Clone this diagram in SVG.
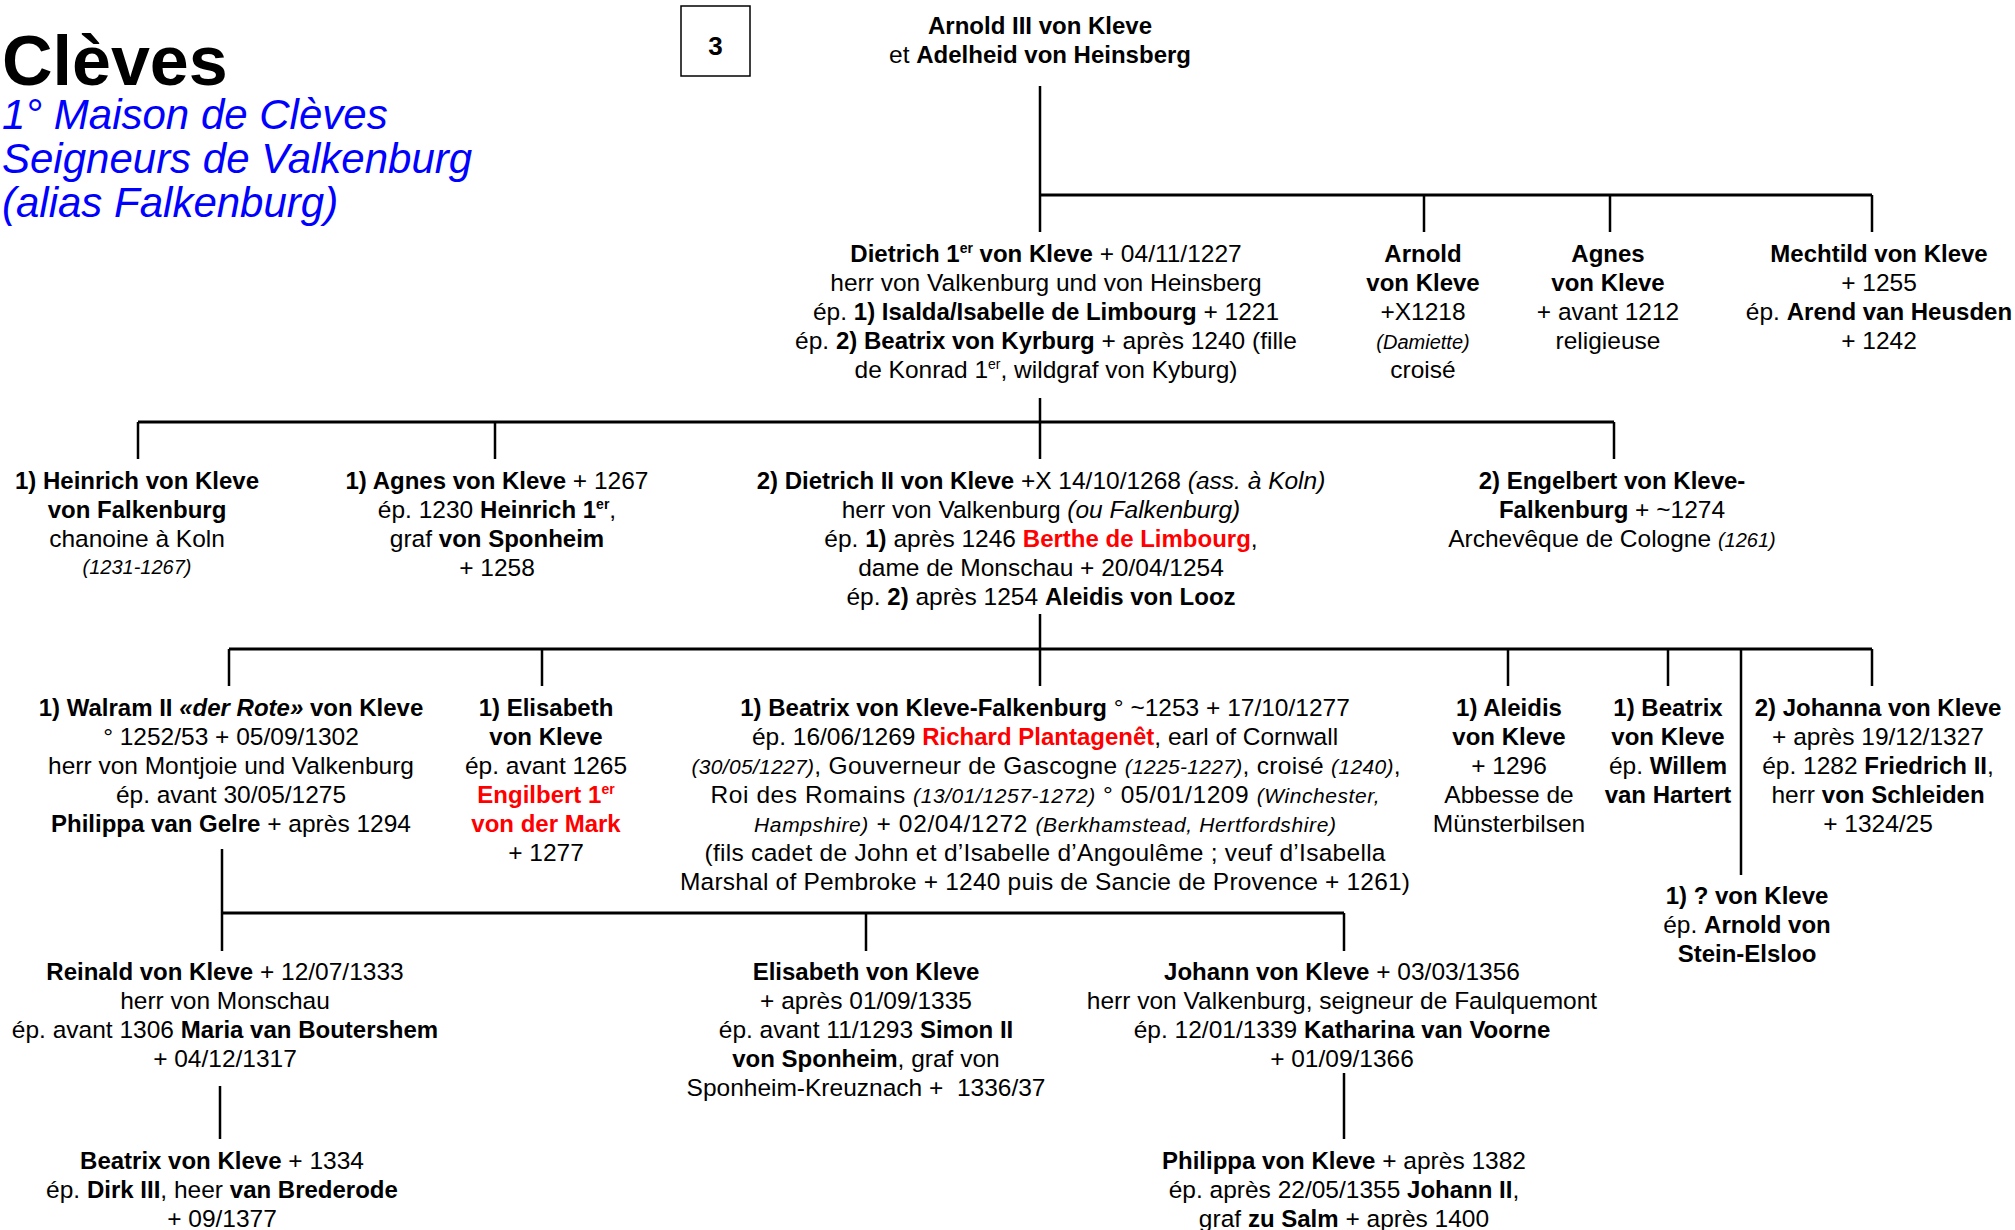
<svg xmlns="http://www.w3.org/2000/svg" width="2015" height="1230" viewBox="0 0 2015 1230">
<style>
text{font-family:"Liberation Sans",Arial,sans-serif;font-size:24.5px;fill:#000}
.t{text-anchor:middle}
.b{font-weight:bold;font-size:24px}
.i{font-style:italic}
.s{font-size:20px}
.m{font-size:21px}
.r{fill:#f00}
.title{font-size:70px;font-weight:bold}
.sub{font-size:42px;font-style:italic;fill:#0000ff}
.ln{stroke:#000;stroke-width:2.5;fill:none}
.bar{stroke:#000;stroke-width:3;fill:none}
</style>
<rect width="2015" height="1230" fill="#fff"/>
<g id="header">
<text class="title" x="2" y="85">Clèves</text>
<text class="sub" x="2" y="129">1° Maison de Clèves</text>
<text class="sub" x="2" y="173">Seigneurs de Valkenburg</text>
<text class="sub" x="2" y="217">(alias Falkenburg)</text>
<rect x="681" y="6" width="69" height="70" fill="none" stroke="#000" stroke-width="1.5"/>
<text class="t b" x="715.5" y="55" style="font-size:26px">3</text>
</g>
<g id="connectors">
<path class="ln" d="M1040 86V195M1040 195V232M1424 195V232M1610 195V232M1872 195V232"/>
<path class="bar" d="M1040 195H1872"/>
<path class="ln" d="M1040 398V459M138 422V459M495 422V459M1614 422V459"/>
<path class="bar" d="M138 422H1614"/>
<path class="ln" d="M1040 614V686M229 649V686M542 649V686M1508 649V686M1668 649V686M1872 649V686M1741 649V875"/>
<path class="bar" d="M229 649H1872"/>
<path class="ln" d="M222 849V951M866 913V951M1344 913V951"/>
<path class="bar" d="M222 913H1344"/>
<path class="ln" d="M220 1086V1139M1344 1073V1139"/>
</g>
<g id="n-arnold3">
<text class="t b" x="1040" y="34">Arnold III von Kleve</text>
<text class="t" x="1040" y="63">et <tspan class="b">Adelheid von Heinsberg</tspan></text>
</g>
<g id="n-dietrich1">
<text class="t" x="1046" y="262"><tspan class="b">Dietrich 1<tspan font-size="14" dy="-9">er</tspan><tspan dy="9"> von Kleve</tspan></tspan> + 04/11/1227</text>
<text class="t" x="1046" y="291">herr von Valkenburg und von Heinsberg</text>
<text class="t" x="1046" y="320">ép. <tspan class="b">1) Isalda/Isabelle de Limbourg</tspan> + 1221</text>
<text class="t" x="1046" y="349">ép. <tspan class="b">2) Beatrix von Kyrburg</tspan> + après 1240 (fille</text>
<text class="t" x="1046" y="378">de Konrad 1<tspan font-size="14" dy="-9">er</tspan><tspan dy="9">, wildgraf von Kyburg)</tspan></text>
</g>
<g id="n-arnold">
<text class="t b" x="1423" y="262">Arnold</text>
<text class="t b" x="1423" y="291">von Kleve</text>
<text class="t" x="1423" y="320">+X1218</text>
<text class="t i s" x="1423" y="349">(Damiette)</text>
<text class="t" x="1423" y="378">croisé</text>
</g>
<g id="n-agnes1">
<text class="t b" x="1608" y="262">Agnes</text>
<text class="t b" x="1608" y="291">von Kleve</text>
<text class="t" x="1608" y="320">+ avant 1212</text>
<text class="t" x="1608" y="349">religieuse</text>
</g>
<g id="n-mechtild">
<text class="t b" x="1879" y="262">Mechtild von Kleve</text>
<text class="t" x="1879" y="291">+ 1255</text>
<text class="t" x="1879" y="320">ép. <tspan class="b">Arend van Heusden</tspan></text>
<text class="t" x="1879" y="349">+ 1242</text>
</g>
<g id="n-heinrich">
<text class="t b" x="137" y="489">1) Heinrich von Kleve</text>
<text class="t b" x="137" y="518">von Falkenburg</text>
<text class="t" x="137" y="547">chanoine à Koln</text>
<text class="t i s" x="137" y="574">(1231-1267)</text>
</g>
<g id="n-agnes2">
<text class="t" x="497" y="489"><tspan class="b">1) Agnes von Kleve</tspan> + 1267</text>
<text class="t" x="497" y="518">ép. 1230 <tspan class="b">Heinrich 1<tspan font-size="14" dy="-9">er</tspan></tspan><tspan dy="9">,</tspan></text>
<text class="t" x="497" y="547">graf <tspan class="b">von Sponheim</tspan></text>
<text class="t" x="497" y="576">+ 1258</text>
</g>
<g id="n-dietrich2">
<text class="t" x="1041" y="489"><tspan class="b">2) Dietrich II von Kleve</tspan> +X 14/10/1268 <tspan class="i">(ass. à Koln)</tspan></text>
<text class="t" x="1041" y="518">herr von Valkenburg <tspan class="i">(ou Falkenburg)</tspan></text>
<text class="t" x="1041" y="547">ép. <tspan class="b">1)</tspan> après 1246 <tspan class="b r">Berthe de Limbourg</tspan>,</text>
<text class="t" x="1041" y="576">dame de Monschau + 20/04/1254</text>
<text class="t" x="1041" y="605">ép. <tspan class="b">2)</tspan> après 1254 <tspan class="b">Aleidis von Looz</tspan></text>
</g>
<g id="n-engelbert">
<text class="t b" x="1612" y="489">2) Engelbert von Kleve-</text>
<text class="t" x="1612" y="518"><tspan class="b">Falkenburg</tspan> + ~1274</text>
<text class="t" x="1612" y="547">Archevêque de Cologne <tspan class="i s">(1261)</tspan></text>
</g>
<g id="n-walram">
<text class="t b" x="231" y="716">1) Walram II <tspan class="i">«der Rote»</tspan> von Kleve</text>
<text class="t" x="231" y="745">° 1252/53 + 05/09/1302</text>
<text class="t" x="231" y="774">herr von Montjoie und Valkenburg</text>
<text class="t" x="231" y="803">ép. avant 30/05/1275</text>
<text class="t" x="231" y="832"><tspan class="b">Philippa van Gelre</tspan> + après 1294</text>
</g>
<g id="n-elisabeth1">
<text class="t b" x="546" y="716">1) Elisabeth</text>
<text class="t b" x="546" y="745">von Kleve</text>
<text class="t" x="546" y="774">ép. avant 1265</text>
<text class="t b r" x="546" y="803">Engilbert 1<tspan font-size="14" dy="-9">er</tspan></text>
<text class="t b r" x="546" y="832">von der Mark</text>
<text class="t" x="546" y="861">+ 1277</text>
</g>
<g id="n-beatrix1">
<text class="t" x="1045" y="716"><tspan class="b">1) Beatrix von Kleve-Falkenburg</tspan> ° ~1253 + 17/10/1277</text>
<text class="t" x="1045" y="745">ép. 16/06/1269 <tspan class="b r">Richard Plantagenêt</tspan>, earl of Cornwall</text>
<text class="t" x="1046" y="774" textLength="709" lengthAdjust="spacing"><tspan class="i m">(30/05/1227)</tspan>, Gouverneur de Gascogne <tspan class="i m">(1225-1227)</tspan>, croisé <tspan class="i m">(1240)</tspan>,</text>
<text class="t" x="1045" y="803" textLength="669" lengthAdjust="spacing">Roi des Romains <tspan class="i m">(13/01/1257-1272)</tspan> ° 05/01/1209 <tspan class="i m">(Winchester,</tspan></text>
<text class="t" x="1045" y="832" textLength="582" lengthAdjust="spacing"><tspan class="i m">Hampshire)</tspan> + 02/04/1272 <tspan class="i m">(Berkhamstead, Hertfordshire)</tspan></text>
<text class="t" x="1045" y="861" textLength="681" lengthAdjust="spacing">(fils cadet de John et d’Isabelle d’Angoulême ; veuf d’Isabella</text>
<text class="t" x="1045" y="890" textLength="730" lengthAdjust="spacing">Marshal of Pembroke + 1240 puis de Sancie de Provence + 1261)</text>
</g>
<g id="n-aleidis">
<text class="t b" x="1509" y="716">1) Aleidis</text>
<text class="t b" x="1509" y="745">von Kleve</text>
<text class="t" x="1509" y="774">+ 1296</text>
<text class="t" x="1509" y="803">Abbesse de</text>
<text class="t" x="1509" y="832">Münsterbilsen</text>
</g>
<g id="n-beatrix2">
<text class="t b" x="1668" y="716">1) Beatrix</text>
<text class="t b" x="1668" y="745">von Kleve</text>
<text class="t" x="1668" y="774">ép. <tspan class="b">Willem</tspan></text>
<text class="t b" x="1668" y="803">van Hartert</text>
</g>
<g id="n-johanna">
<text class="t b" x="1878" y="716">2) Johanna von Kleve</text>
<text class="t" x="1878" y="745">+ après 19/12/1327</text>
<text class="t" x="1878" y="774">ép. 1282 <tspan class="b">Friedrich II</tspan>,</text>
<text class="t" x="1878" y="803">herr <tspan class="b">von Schleiden</tspan></text>
<text class="t" x="1878" y="832">+ 1324/25</text>
</g>
<g id="n-unknown">
<text class="t b" x="1747" y="904">1) ? von Kleve</text>
<text class="t" x="1747" y="933">ép. <tspan class="b">Arnold von</tspan></text>
<text class="t b" x="1747" y="962">Stein-Elsloo</text>
</g>
<g id="n-reinald">
<text class="t" x="225" y="980"><tspan class="b">Reinald von Kleve</tspan> + 12/07/1333</text>
<text class="t" x="225" y="1009">herr von Monschau</text>
<text class="t" x="225" y="1038">ép. avant 1306 <tspan class="b">Maria van Boutershem</tspan></text>
<text class="t" x="225" y="1067">+ 04/12/1317</text>
</g>
<g id="n-elisabeth2">
<text class="t b" x="866" y="980">Elisabeth von Kleve</text>
<text class="t" x="866" y="1009">+ après 01/09/1335</text>
<text class="t" x="866" y="1038">ép. avant 11/1293 <tspan class="b">Simon II</tspan></text>
<text class="t" x="866" y="1067"><tspan class="b">von Sponheim</tspan>, graf von</text>
<text class="t" x="866" y="1096" xml:space="preserve">Sponheim-Kreuznach +  1336/37</text>
</g>
<g id="n-johann">
<text class="t" x="1342" y="980"><tspan class="b">Johann von Kleve</tspan> + 03/03/1356</text>
<text class="t" x="1342" y="1009">herr von Valkenburg, seigneur de Faulquemont</text>
<text class="t" x="1342" y="1038">ép. 12/01/1339 <tspan class="b">Katharina van Voorne</tspan></text>
<text class="t" x="1342" y="1067">+ 01/09/1366</text>
</g>
<g id="n-beatrix3">
<text class="t" x="222" y="1169"><tspan class="b">Beatrix von Kleve</tspan> + 1334</text>
<text class="t" x="222" y="1198">ép. <tspan class="b">Dirk III</tspan>, heer <tspan class="b">van Brederode</tspan></text>
<text class="t" x="222" y="1227">+ 09/1377</text>
</g>
<g id="n-philippa">
<text class="t" x="1344" y="1169"><tspan class="b">Philippa von Kleve</tspan> + après 1382</text>
<text class="t" x="1344" y="1198">ép. après 22/05/1355 <tspan class="b">Johann II</tspan>,</text>
<text class="t" x="1344" y="1227">graf <tspan class="b">zu Salm</tspan> + après 1400</text>
</g>
</svg>
